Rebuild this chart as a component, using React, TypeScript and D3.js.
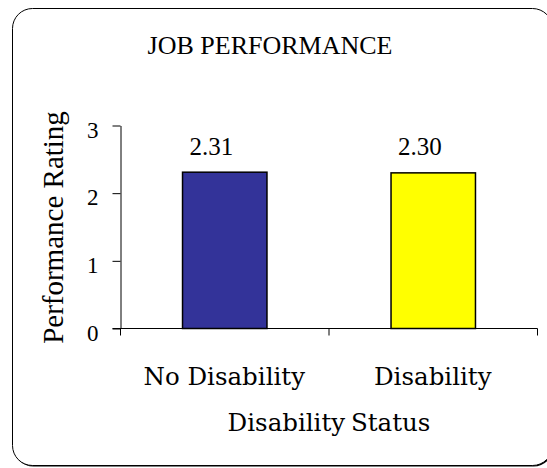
import React, { useEffect, useRef } from 'react';
import * as d3 from 'd3';

const categories = ['No Disability', 'Disability'];
const ratings = [2.31, 2.3];
const barColors = ['#333399', '#FFFF00'];
const yTicks = [0, 1, 2, 3];

const App: React.FC = () => {
  const svgRef = useRef<SVGSVGElement>(null);

  useEffect(() => {
    const svg = d3.select(svgRef.current);
    svg.selectAll('*').remove();

    const width = 547;
    const height = 468;
    svg.attr('width', width).attr('height', height);

    // frame with a small drop shadow at the bottom/right
    svg.append('rect')
      .attr('x', 13.5).attr('y', 9.5)
      .attr('width', 540).attr('height', 457)
      .attr('rx', 20)
      .attr('fill', '#000');
    svg.append('rect')
      .attr('x', 12.5).attr('y', 8.5)
      .attr('width', 540).attr('height', 457)
      .attr('rx', 20)
      .attr('fill', '#fff')
      .attr('stroke', '#000')
      .attr('stroke-width', 1);

    const plot = { left: 120, right: 537, top: 125, bottom: 328 };

    const x = d3.scaleBand<string>()
      .domain(categories)
      .range([plot.left, plot.right])
      .padding(0);

    const y = d3.scaleLinear()
      .domain([0, 3])
      .range([plot.bottom, plot.top]);

    const barWidth = x.bandwidth() * 0.405;

    // title
    svg.append('text')
      .attr('x', 270)
      .attr('y', 54)
      .attr('text-anchor', 'middle')
      .style('font-family', '"Liberation Serif", serif')
      .style('font-size', '26px')
      .text('JOB PERFORMANCE');

    // bars
    svg.selectAll('.bar')
      .data(ratings)
      .enter()
      .append('rect')
      .attr('class', 'bar')
      .attr('x', (_, i) => (x(categories[i]) ?? 0) + x.bandwidth() / 2 - barWidth / 2 + 0.5)
      .attr('y', d => y(d) + 0.5)
      .attr('width', barWidth)
      .attr('height', d => y(0) - y(d))
      .attr('fill', (_, i) => barColors[i])
      .attr('stroke', '#000')
      .attr('stroke-width', 1.5);

    // value labels (sit a little left of the bar centre, as in the original)
    svg.selectAll('.val')
      .data(ratings)
      .enter()
      .append('text')
      .attr('class', 'val')
      .attr('x', (_, i) => (x(categories[i]) ?? 0) + x.bandwidth() / 2 - 13)
      .attr('y', d => y(d) - 17)
      .attr('text-anchor', 'middle')
      .style('font-family', '"Liberation Serif", serif')
      .style('font-size', '25px')
      .text(d => d.toFixed(2));

    // y axis
    const yAxis = svg.append('g')
      .attr('transform', `translate(${plot.left + 0.5},0.5)`)
      .call(d3.axisLeft(y).tickValues(yTicks).tickFormat(d3.format('d')).tickSize(8).tickSizeOuter(0));
    yAxis.select('.domain').attr('stroke', '#000');
    yAxis.selectAll('.tick line').attr('stroke', '#000');
    yAxis.selectAll('.tick text')
      .attr('x', -22)
      .attr('dy', '0.5em')
      .style('font-family', '"Liberation Serif", serif')
      .style('font-size', '23px')
      .attr('fill', '#000');

    // x axis
    const xAxisG = svg.append('g')
      .attr('transform', `translate(0.5,${plot.bottom + 0.5})`);
    xAxisG.append('line')
      .attr('x1', plot.left - 8).attr('x2', plot.right)
      .attr('stroke', '#000');
    const boundaries = [...categories.map(c => x(c) ?? 0), plot.right];
    xAxisG.selectAll('.xt')
      .data(boundaries)
      .enter()
      .append('line')
      .attr('class', 'xt')
      .attr('x1', d => d).attr('x2', d => d)
      .attr('y1', 0).attr('y2', 7)
      .attr('stroke', '#000');

    // category labels
    svg.selectAll('.cat')
      .data(categories)
      .enter()
      .append('text')
      .attr('class', 'cat')
      .attr('x', d => (x(d) ?? 0) + x.bandwidth() / 2)
      .attr('y', 385)
      .attr('text-anchor', 'middle')
      .style('font-family', '"DejaVu Serif", serif')
      .style('font-size', '24.5px')
      .text(d => d);

    // x axis title
    svg.append('text')
      .attr('x', 329)
      .attr('y', 431)
      .attr('text-anchor', 'middle')
      .style('font-family', '"DejaVu Serif", serif')
      .style('font-size', '24.5px')
      .style('word-spacing', '-2px')
      .text('Disability Status');

    // y axis title
    svg.append('text')
      .attr('transform', `translate(63,${(plot.top + plot.bottom) / 2 + 1}) rotate(-90)`)
      .attr('text-anchor', 'middle')
      .style('font-family', '"Liberation Serif", serif')
      .style('font-size', '29px')
      .text('Performance Rating');
  }, []);

  return (
    <div style={{ position: 'absolute', left: 0, top: 0 }}>
      <svg ref={svgRef} style={{ display: 'block' }}></svg>
    </div>
  );
};

export default App;
